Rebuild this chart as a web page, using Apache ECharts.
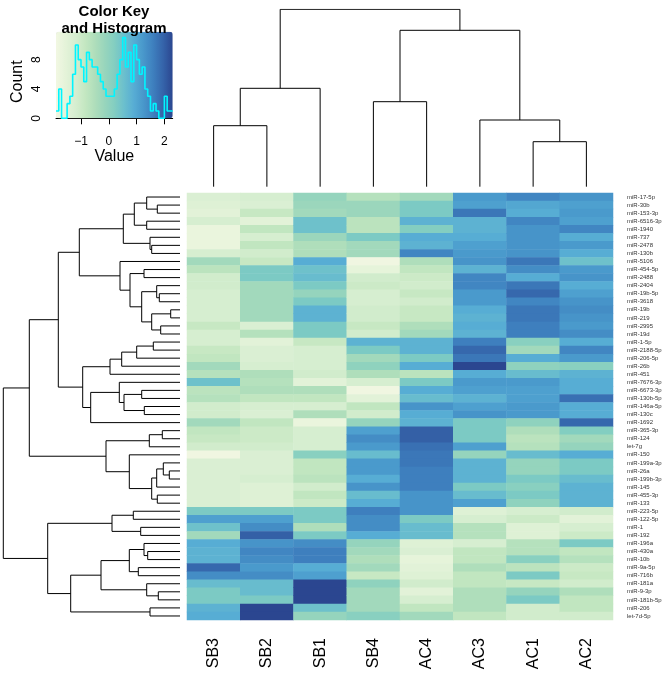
<!DOCTYPE html>
<html><head><meta charset="utf-8">
<script src="https://cdn.jsdelivr.net/npm/echarts@6/dist/echarts.min.js"></script>
<style>html,body{margin:0;padding:0;background:#fff}#c{width:667px;height:674px}</style>
</head><body><div id="c"></div>
<script>
const FONT = 'Liberation Sans, Arial, Helvetica, sans-serif';
const rowLabels = ['miR-17-5p','miR-30b','miR-153-3p','miR-6516-3p','miR-1940','miR-737','miR-2478','miR-130b','miR-5106','miR-454-5p','miR-2488','miR-2404','miR-19b-5p','miR-3618','miR-19b','miR-219','miR-2995','miR-19d','miR-1-5p','miR-2188-5p','miR-206-5p','miR-26b','miR-451','miR-7676-3p','miR-6673-3p','miR-130b-5p','miR-146a-5p','miR-130c','miR-1692','miR-365-3p','miR-124','let-7g','miR-150','miR-199a-3p','miR-26a','miR-199b-3p','miR-145','miR-455-3p','miR-133','miR-223-5p','miR-122-5p','miR-1','miR-192','miR-196a','miR-430a','miR-10b','miR-9a-5p','miR-716b','miR-181a','miR-9-3p','miR-181b-5p','miR-206','let-7d-5p'];
const colLabels = ['SB3','SB2','SB1','SB4','AC4','AC3','AC1','AC2'];

const SB3 = [-1.3,-1.4,-1.5,-1.2,-1.7,-1.7,-1.7,-1.2,-0.3,-0.7,-1.1,-1.1,-1.2,-1.2,-1.2,-1.2,-0.9,-1.2,-1.2,-0.9,-0.8,-0.3,-0.6,0.5,-0.7,-0.6,-1.1,-1.1,-0.3,-0.8,-0.9,-1.1,-1.85,-1.3,-1.3,-1.3,-1.3,-1.3,-1.3,0.3,1.1,0.5,-0.3,0.9,0.8,0.8,1.9,1.4,0.6,0.3,0.3,0.8,0.9];
const SB2 = [-1.2,-1.3,-0.9,-1.5,-0.8,-1.2,-0.8,-1.1,-0.9,0.3,0.3,-0.3,-0.3,-0.3,-0.3,-0.3,-1.3,-0.6,-1.5,-1.3,-1.3,-1.2,-0.5,-0.6,-0.5,-0.8,-1.2,-1.3,-0.8,-1.0,-1.0,-1.1,-1.3,-1.3,-1.3,-1.2,-1.4,-1.4,-1.4,0.3,1.1,1.4,2.0,1.3,1.5,1.4,1.2,1.4,0.6,0.6,0.3,2.3,2.3];
const SB1 = [-0.1,-0.2,-0.3,0.5,0.5,-0.2,-0.5,-0.5,0.9,0.5,0.6,0.3,-0.1,0.3,0.8,0.8,0.3,0.3,-0.9,-1.2,-1.2,-1.2,-1.1,-1.5,-0.5,-0.8,-1.2,-0.5,-1.7,-1.2,-1.2,-1.2,0.1,-0.8,-0.8,-0.7,-1.1,-0.8,-1.0,0.3,0.3,-0.5,0.3,1.4,1.6,1.6,0.9,1.1,2.3,2.3,2.3,0.5,-0.1];
const SB4 = [-0.6,-0.2,-0.2,-0.7,-0.7,0.3,-0.3,-0.3,-1.85,-1.6,-1.1,-1.0,-1.2,-1.2,-1.1,-1.1,-0.9,-1.1,0.8,0.3,-0.3,0.0,-0.5,-1.2,-1.85,-1.5,-0.8,-1.1,-0.1,1.1,1.4,1.2,0.6,1.2,1.2,0.9,1.3,0.6,0.9,1.6,1.4,1.4,0.9,-0.1,-0.3,-0.5,-0.3,-0.9,0.0,-0.3,-0.3,-0.3,0.1];
const AC4 = [-0.3,0.3,0.3,0.8,0.2,0.9,0.8,1.5,-0.5,-0.8,-1.0,-1.1,-0.9,-1.1,-0.9,-0.9,-0.5,-0.3,0.8,0.8,0.3,0.9,-0.7,0.3,0.9,0.6,1.3,0.9,0.8,2.0,2.0,1.8,1.7,1.7,1.6,1.6,1.6,1.3,1.3,1.3,0.3,0.6,0.6,-1.4,-1.3,-1.6,-1.5,-1.4,-1.1,-1.5,-1.2,-0.8,-0.3];
const AC3 = [1.2,1.1,1.7,0.8,0.8,0.9,1.1,1.2,1.3,0.8,1.5,1.5,1.2,1.2,0.9,0.8,0.9,0.8,1.6,1.9,1.7,2.3,0.9,1.2,1.1,0.8,1.1,1.3,0.3,0.3,0.3,1.1,-0.1,0.8,0.8,0.8,0.3,0.6,1.1,-1.4,-1.2,-0.6,-0.6,-1.2,-0.8,-0.8,-0.5,-0.8,-0.8,-0.5,-0.5,-0.5,-0.8];
const AC1 = [1.5,1.0,0.9,1.5,1.3,1.3,1.3,1.3,1.7,1.4,0.9,1.7,1.9,1.5,1.7,1.7,1.6,1.6,0.1,-0.3,0.9,0.0,0.6,1.2,1.1,1.1,1.2,1.2,0.0,-0.5,-0.7,-0.6,0.6,-0.1,-0.1,0.3,0.1,0.3,0.0,-1.2,-1.0,-1.4,-1.4,-0.6,-0.6,0.1,-0.7,0.3,-0.9,-0.1,0.3,-1.1,-1.1];
const AC2 = [1.3,1.1,1.2,1.1,1.5,0.9,1.2,0.9,0.5,1.2,1.3,0.9,1.1,1.3,1.4,1.3,1.2,1.4,0.9,1.5,1.2,0.1,0.8,0.9,0.9,1.8,0.9,0.9,1.9,0.2,-0.3,-0.1,0.9,0.3,0.3,0.6,0.8,0.8,0.8,-1.1,-1.5,-1.2,-1.0,0.3,-0.8,-0.6,-1.0,-0.9,-1.1,-0.5,-0.8,-0.8,-1.1];

// dendrograms: [left, right, mergeHeight]; leaves are row / column indices
const rowTree = [[[[[[[0,[1,2,22.7],33.3],[3,4,33.3],45.7],[5,[6,7,28.3],30],56.7],
  [8,[[9,10,36],[[11,[12,13,20.7],23.3],[[14,15,9.3],[16,17,19.3],28.3],38.3],50],60],100.7],
  [[[[[18,19,26.7],20,43.3],21,58.3],22,70],[[23,[[24,25,38.3],[26,27,35.7],56],60.7],28,89.3],97.3],121.7],
  [[[29,30,17.7],31,30.7],[32,[[[33,[34,35,10.7],16.7],36,23.3],[37,38,22.7],28.3],50.7],74],150.7],
  [[[39,40,46.7],[41,42,39.3],68],[[[[43,[44,45,32.3],36],[46,47,41.7],50.7],[48,[49,50,21.7],33.3],79],[51,52,30],109.3],132.3],176.7];
const colTree = [[[0,1,61],2,98.4],[[3,4,85],[5,[6,7,45],66.7],156.4],177.4];

// histogram of the colour key
const histEdges = [-1.9,-1.8,-1.7,-1.6,-1.5,-1.4,-1.3,-1.2,-1.1,-1.0,-0.9,-0.8,-0.7,-0.6,-0.5,-0.4,-0.3,-0.2,-0.1,0.0,0.1,0.2,0.3,0.4,0.5,0.6,0.7,0.8,0.9,1.0,1.1,1.2,1.3,1.4,1.5,1.6,1.7,1.8,1.9,2.0,2.1,2.2,2.3];
const histCounts = [1,4,0,0,2,3,6,10,8,7,5,9,8,7,7,6,5,4,3,3,3,4,6,8,11,7,9,5,10,8,6,7,4,3,1,2,1,0,0,3,1,1];
const keyTicks = [-1,0,1,2];
const countTicks = [0,2,4,6,8,10];
const countLabels = [0,4,8];

const cols = [SB3,SB2,SB1,SB4,AC4,AC3,AC1,AC2];
const heatData = [];
cols.forEach((arr, c) => arr.forEach((v, r) => heatData.push([c, r, v])));

function dendro(node, segs) {
  if (typeof node === 'number') return {pos: node, h: 0};
  const a = dendro(node[0], segs), b = dendro(node[1], segs), h = node[2];
  segs.push([[a.pos, a.h], [a.pos, h], [b.pos, h], [b.pos, b.h]]);
  return {pos: (a.pos + b.pos) / 2, h: h};
}
const colSegs = []; dendro(colTree, colSegs);
const rowSegs = []; dendro(rowTree, rowSegs);
const colLines = colSegs.map(s => ({coords: s}));
const rowLines = rowSegs.map(s => ({coords: s.map(p => [p[1], p[0]])}));

const histData = histCounts.map((c, i) => [histEdges[i], c]);
histData.push([histEdges[histEdges.length - 1], histCounts[histCounts.length - 1]]);

const palette = ['#f2f7e2','#e4f3d9','#d6eed0','#c4e7c1','#afdebb','#98d5bc','#83cec1','#6bbfcd','#57add4','#4897cb','#3e7fbe','#3564aa','#2b4690'];
const minus = v => String(v).replace('-', '\u2212');

const chart = echarts.init(document.getElementById('c'), null, {renderer: 'canvas'});
chart.setOption({
  backgroundColor: '#fff',
  animation: false,
  textStyle: {fontFamily: FONT},
  grid: [
    {left: 187, top: 193, width: 426, height: 427},
    {left: 187, top: 9.3, width: 426, height: 177.4},
    {left: 3.3, top: 193, width: 176.7, height: 427},
    {left: 56, top: 45, width: 116.7, height: 73.3}
  ],
  xAxis: [
    {type: 'category', gridIndex: 0, data: colLabels, position: 'bottom',
     axisLine: {show: false}, axisTick: {show: false},
     axisLabel: {rotate: 90, fontSize: 16, margin: 18, color: '#000', fontFamily: FONT}},
    {type: 'value', gridIndex: 1, min: -0.5, max: 7.5, show: false},
    {type: 'value', gridIndex: 2, min: 0, max: 176.7, inverse: true, show: false},
    {type: 'value', gridIndex: 3, min: -1.9, max: 2.3, splitLine: {show: false},
     axisLine: {show: true, lineStyle: {color: '#000', width: 1}},
     axisTick: {show: true, customValues: keyTicks, length: 6, lineStyle: {color: '#000'}},
     axisLabel: {customValues: keyTicks, fontSize: 12, margin: 17, color: '#000', formatter: minus, fontFamily: FONT},
     name: 'Value', nameLocation: 'middle', nameGap: 28,
     nameTextStyle: {fontSize: 16, color: '#000', fontFamily: FONT}}
  ],
  yAxis: [
    {type: 'category', gridIndex: 0, data: rowLabels, inverse: true, position: 'right',
     axisLine: {show: false}, axisTick: {show: false},
     axisLabel: {fontSize: 6, margin: 14, color: '#333', interval: 0, fontFamily: FONT}},
    {type: 'value', gridIndex: 1, min: 0, max: 177.4, show: false},
    {type: 'value', gridIndex: 2, min: -0.5, max: 52.5, inverse: true, show: false},
    {type: 'value', gridIndex: 3, min: 0, max: 10, offset: 3, splitLine: {show: false},
     axisLine: {show: true, lineStyle: {color: '#000', width: 1}},
     axisTick: {show: true, customValues: countTicks, length: 5, lineStyle: {color: '#000'}},
     axisLabel: {customValues: countLabels, rotate: 90, fontSize: 12, margin: 10, color: '#000', fontFamily: FONT},
     name: 'Count', nameLocation: 'middle', nameGap: 27, nameRotate: 90,
     nameTextStyle: {fontSize: 16, color: '#000', fontFamily: FONT}}
  ],
  visualMap: {
    type: 'continuous', seriesIndex: 0, min: -1.9, max: 2.3,
    orient: 'horizontal', left: 56, top: 31.7, itemWidth: 86.6, itemHeight: 116.7,
    padding: 0, calculable: false, hoverLink: false, z: 1,
    inRange: {color: palette}
  },
  graphic: [
    {type: 'text', x: 114, y: 3, z: 100,
     style: {text: 'Color Key\nand Histogram', align: 'center', verticalAlign: 'top', fontSize: 15, fontWeight: 'bold',
             lineHeight: 17, fontFamily: FONT, fill: '#000'}}
  ],
  series: [
    {type: 'heatmap', xAxisIndex: 0, yAxisIndex: 0, data: heatData, progressive: 0},
    {type: 'lines', coordinateSystem: 'cartesian2d', xAxisIndex: 1, yAxisIndex: 1, polyline: true,
     data: colLines, lineStyle: {color: '#000', width: 1, opacity: 1}, silent: true},
    {type: 'lines', coordinateSystem: 'cartesian2d', xAxisIndex: 2, yAxisIndex: 2, polyline: true,
     data: rowLines, lineStyle: {color: '#000', width: 1, opacity: 1}, silent: true},
    {type: 'line', xAxisIndex: 3, yAxisIndex: 3, data: histData, step: 'end', symbol: 'none', clip: false, z: 10,
     lineStyle: {color: '#00f5ff', width: 1.6}, itemStyle: {color: '#00f5ff'}}
  ]
});
</script></body></html>
